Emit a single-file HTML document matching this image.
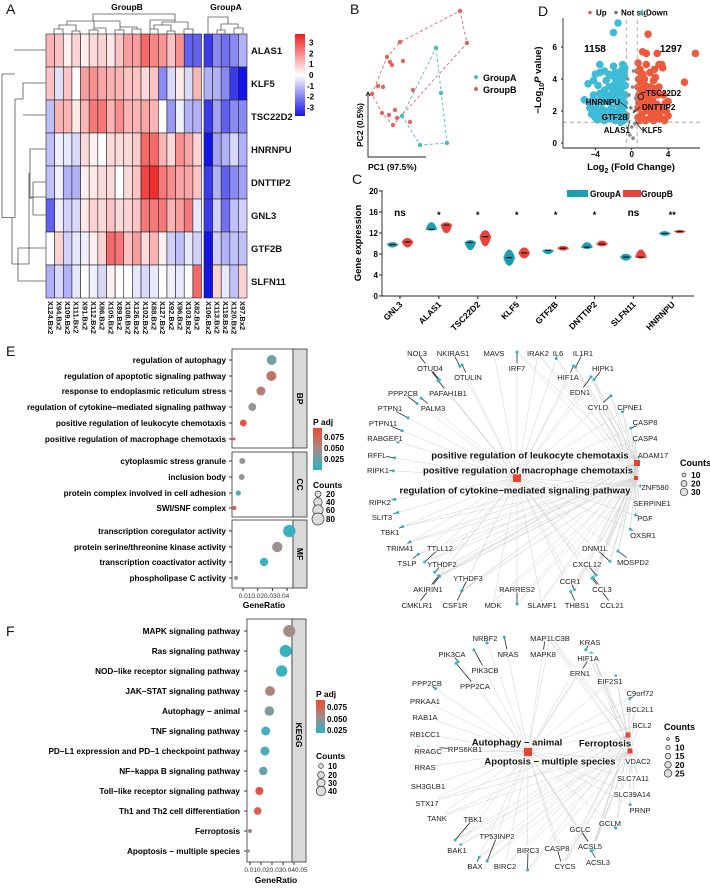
<!DOCTYPE html>
<html><head><meta charset="utf-8"><style>
html,body{margin:0;padding:0;background:#fff;}
svg{display:block;font-family:"Liberation Sans",Arial,sans-serif;}
</style></head><body>
<svg id="fig" xmlns="http://www.w3.org/2000/svg" width="710" height="889" viewBox="0 0 710 889">
<g font-size="14" fill="#111">
<text x="6" y="14">A</text><text x="350" y="14">B</text><text x="352" y="184">C</text><text x="538" y="16">D</text><text x="6" y="356">E</text><text x="6" y="636">F</text>
</g>
</svg>
<script>
const SVG='http://www.w3.org/2000/svg';
const fig=document.getElementById('fig');
function mk(tag,attrs,parent){const e=document.createElementNS(SVG,tag);for(const k in attrs)e.setAttribute(k,attrs[k]);(parent||fig).appendChild(e);return e;}
function txt(s,attrs,parent){const e=mk('text',attrs,parent);e.textContent=s;return e;}

/* ================= A: heatmap ================= */
const hmGenes=['ALAS1','KLF5','TSC22D2','HNRNPU','DNTTIP2','GNL3','GTF2B','SLFN11'];
const hmSamples=['X124.Bx2','X94.Bx2','X109.Bx2','X111.Bx2','X91.Bx2','X112.Bx2','X86.Bx2','X105.Bx2','X89.Bx2','X108.Bx2','X126.Bx2','X102.Bx2','X88.Bx2','X127.Bx2','X92.Bx2','X96.Bx2','X103.Bx2','X82.Bx2','X106.Bx2','X113.Bx2','X118.Bx2','X120.Bx2','X97.Bx2'];
const hmRowALAS1=[1,0.8,0.2,0.6,0.2,0.5,0.6,0.3,0.8,1.3,1.3,2,1.6,1.4,0.8,1.5,-2,-2,-2.5,-1.5,-1.8,-1.5,-1];
const hmRowKLF5=[0.8,-0.4,0.8,0,1.3,1.5,1.2,1,1,0.8,0.8,0.5,0.8,-1.5,-0.5,0.3,-0.5,1,-1,-1,-1.5,-2.5,-3];
const hmRowTSC22D2=[-0.8,1,1,0.3,1,1.8,1.8,1,1.5,1,1,1.2,1,0,-1.3,-0.2,-1,-1,-2.5,-1.2,-2,-1.5,-1.5];
const hmRowHNRNPU=[-0.8,-0.2,-0.3,-0.5,0.5,0.2,0,0.5,0.5,0.5,0.7,2,2,1,0.5,1.5,1.2,0.6,-3.5,-1.2,-1,-0.5,-1];
const hmRowDNTTIP2=[-0.8,-0.2,-1,-1,0.2,0.3,0.5,0.5,0,0.5,0.8,2.5,2.8,1.8,1.5,1.2,1.2,0.8,-2.5,-1,-2,-1.5,-1.2];
const hmRowGNL3=[-2,-0.2,-0.6,-0.5,0.3,0.6,0.5,0.8,0.5,0.6,0.8,1.8,1.8,1.8,1,1.3,1.8,-0.3,-2.5,-0.6,-1.8,-0.8,-0.6];
const hmRowGTF2B=[0,0.6,-0.6,-0.3,-0.2,0.2,0.6,2,1.8,0.8,1.3,0.5,1,0.2,-0.6,-0.8,-0.3,-0.6,-3.5,-0.6,-1,-0.8,-0.8];
const hmRowSLFN11=[-1,-0.5,-1,-0.3,0,-0.2,-0.5,0.2,0,0,-0.3,-0.5,-0.3,0,-0.2,-0.3,0,2,-3.5,0.6,-0.3,-0.8,0.6];
const hmRows=[hmRowALAS1,hmRowKLF5,hmRowTSC22D2,hmRowHNRNPU,hmRowDNTTIP2,hmRowGNL3,hmRowGTF2B,hmRowSLFN11];
const hmTicks=[3,2,1,0,-1,-2,-3];
const nB=18, cw=8.64, rh=33, hy0=34;
function hmX(i){return i<nB?46+i*cw:204+(i-nB)*8.6;}
function hmY(r){return hy0+r*rh;}
function hmColor(v){v=Math.max(-3,Math.min(3,v));const t=Math.abs(v)/3;
  if(v>=0)return `rgb(${Math.round(255-15*t)},${Math.round(255-225*t)},${Math.round(255-225*t)})`;
  return `rgb(${Math.round(255-235*t)},${Math.round(255-235*t)},${Math.round(255-25*t)})`;}
const gA=mk('g',{});


hmRows.forEach((row,r)=>{row.forEach((v,i)=>{
  const c=mk('rect',{x:hmX(i),y:hmY(r),width:i<nB?cw:8.6,height:rh,fill:hmColor(v),stroke:'#222','stroke-width':0.6},gA);
  
  
});
  const t=txt(hmGenes[r],{x:251,y:hmY(r)+rh/2+3.5,'font-size':9.5,'font-weight':'bold',fill:'#111'},gA);
  
  
});
hmSamples.forEach((s,i)=>{const cx=hmX(i)+4.3;
  const t=txt(s,{x:cx-2.5,y:301,'font-size':7.5,'font-weight':'bold',fill:'#111',transform:`rotate(90 ${cx-2.5} 301)`},gA);
  
  
});
{const t1=txt('GroupB',{x:127,y:10,'font-size':8.5,'font-weight':'bold','text-anchor':'middle'},gA);


const t2=txt('GroupA',{x:226,y:10,'font-size':8.5,'font-weight':'bold','text-anchor':'middle'},gA);

}
const cbDefs=mk('defs',{});
const lg=mk('linearGradient',{id:'hmgrad',x1:0,y1:0,x2:0,y2:1},cbDefs);
mk('stop',{offset:'0',"stop-color":hmColor(3.5)},lg);mk('stop',{offset:'0.5',"stop-color":'#fff'},lg);mk('stop',{offset:'1',"stop-color":hmColor(-3.5)},lg);
{const cb=mk('rect',{x:295,y:34,width:10,height:82,fill:'url(#hmgrad)'},gA);

}
hmTicks.forEach(v=>{const t=txt(String(v),{x:v<0?307:309,y:75-v*10.8+3,'font-size':8,'font-weight':'bold'},gA);

});
{const d=mk('path',{d:'M46,50 H14 M15,99 H23 V83 H46 M23,115 H46 M15,99 V217.5 M2,74 H15 M15,217.5 H2 V74 M46,149 H30 V197 H46 M30,173 H29 M29,173 V264 M33,182 V215 H46 M33,182 H46 M33,198 H29 M46,248 H18 V281 H46 M18,264 H12 M29,264 H12 M12,218 V264',fill:'none',stroke:'#555','stroke-width':0.8},gA);


const d2=mk('path',{d:'M54,34 V29 H63 V34 M72,34 V31 H80 V34 M59,29 V25 H76 V31 M89,34 V30 H98 V34 M94,30 V28 H106 V34 M115,34 V30 H124 V34 M132,34 V29 H141 V34 M67,25 V21 H120 V30 M137,29 V27 H120 M94,28 V21 M93,21 V14 H175 V20 M150,34 V29 H158 V34 M167,34 V31 H175 V34 M154,29 V25 H171 V31 M184,34 V29 H193 V34 M162,25 V22 H188 V29 M175,22 V20 H150 V29',fill:'none',stroke:'#555','stroke-width':0.8},gA);


const d3=mk('path',{d:'M208,34 V17 H228 V24 M217,34 V30 H225 V34 M221,30 V24 H238 V28 M234,34 V28 H243 V34',fill:'none',stroke:'#555','stroke-width':0.8},gA);

}

/* ================= B: PCA ================= */
const pcaAx=[86,91,52,70,97];
const pcaAy=[48,93,116,145,143];
const pcaBx=[110,117,50,37,40,42,53,22,28,33,63,32,39,45,47,43,60];
const pcaBy=[11,43,42,57,62,65,61,94,86,87,90,113,115,110,118,125,122];
const hullA=[0,4,3,2];
const hullB=[7,3,2,0,1,15,11];
function bx(v){return 350+v;} function by(v){return v;}
const gB=mk('g',{});


{const hb=mk('polygon',{points:hullB.map(i=>bx(pcaBx[i])+','+by(pcaBy[i])).join(' '),fill:'none',stroke:'#e0665f','stroke-width':0.9,'stroke-dasharray':'3,2.5'},gB);


const ha=mk('polygon',{points:hullA.map(i=>bx(pcaAx[i])+','+by(pcaAy[i])).join(' '),fill:'none',stroke:'#3fbfc4','stroke-width':0.9,'stroke-dasharray':'3,2.5'},gB);

}
pcaBx.forEach((v,i)=>{const c=mk('circle',{cx:bx(v),cy:by(pcaBy[i]),r:2.2,fill:'#e0665f'},gB);

});
pcaAx.forEach((v,i)=>{const c=mk('circle',{cx:bx(v),cy:by(pcaAy[i]),r:2.2,fill:'#3fbfc4'},gB);

});
{const ax=mk('path',{d:'M368,93 V157 H426 M366,96 L368,92 L370,96',fill:'none',stroke:'#222','stroke-width':0.9},gB);


const t1=txt('PC1 (97.5%)',{x:368,y:170,'font-size':8.5,'font-weight':'bold'},gB);


const t2=txt('PC2 (0.5%)',{x:363,y:125,'font-size':8.5,'font-weight':'bold','text-anchor':'middle',transform:'rotate(-90 363 125)'},gB);


const l1=mk('circle',{cx:476,cy:77,r:2,fill:'#3fbfc4'},gB);


const l2=mk('circle',{cx:476,cy:89,r:2,fill:'#e0665f'},gB);


const l3=txt('GroupA',{x:483,y:81,'font-size':9,'font-weight':'bold'},gB);


const l4=txt('GroupB',{x:483,y:93,'font-size':9,'font-weight':'bold'},gB);

}

/* ================= D: volcano ================= */
const volDownX=[-1,-1.2,-0.8,-1.5,-2,-2.5,-3,-3.5,-4,-1,-1.5,-2,-2.5,-3,-3.5,-4.2,-4.5,-4,-3.5,-3,-2.5,-2,-1.5,-1,-0.8,-1.3,-2,-2.7,-3.3,-4,-4.4,-0.7,-0.9,-1.8,-3,-3.8,-4.8,-5.2,-2,-1.5,-3.5,-4.2,-1.1,-2.2,-3.2,-0.75,-1.7,-2.8,-0.7,-0.9,-1.2,-1.4,-1.7,-2.3,-2.6,-3.1,-3.6,-4.1,-4.6,-0.8,-1.1,-1.6,-2.1,-2.9,-3.4,-3.9,-4.3,-0.7,-1,-1.4,-1.9,-2.4,-3.7,-0.8,-1.3,-1.8,-2.2,-0.9,-1.2];
const volDownY=[4.9,4.5,4.2,4,4.8,4.3,4.5,4.4,4.3,3.5,3.2,3.6,3.5,3.3,3.1,3,2.6,2.2,2.5,2.6,2.6,2.7,2.4,2.6,1.8,1.6,1.8,1.7,1.7,1.6,1.8,3,1.4,1.4,1.4,1.45,3.7,2.7,6.9,7.5,4.9,3.9,2,2.2,2.1,4.7,3.9,3.9,1.5,2.2,2.9,2,1.9,1.5,2,1.5,1.9,1.9,2.2,2.5,3.1,2.8,3.1,2.9,2.8,2.6,2.5,3.6,4,3.6,3.2,3,3.6,4.5,4.2,4.4,4.2,1.6,1.3];
const volUpX=[0.7,0.9,1.2,1.6,2,2.5,3,3.4,1,1.5,2,2.5,3,3.5,0.8,1.2,1.8,2.3,2.8,3.3,3.8,0.7,1.1,1.6,2.2,2.8,3.4,4,0.8,1.5,2.4,3.6,1.8,1.2,1.6,2.8,3.3,7,5.8,4,0.75,1.4,2.6,0.9,2.1,0.7,0.9,1.3,1.9,2.6,3.1,0.8,1.1,1.7,2,2.5,3.1,0.7,1,1.4,1.8,2.9,0.75,1.05,1.3,2.4,3.7,0.8,1.6,2.1];
const volUpY=[5,4.6,4.3,4.9,4.4,4.6,4.9,4.7,3.8,3.6,3.5,3.4,3.5,3,3,2.8,2.9,2.7,2.4,2.2,2,2.2,1.8,2,1.8,1.6,1.5,1.7,1.4,1.4,1.4,1.4,6.8,5.7,5.6,5.6,4.9,5.6,3.8,2.6,4,4,4.1,2.5,2.3,1.6,1.4,1.5,1.5,1.6,1.5,2.5,2.3,2.4,2.2,2,1.9,3.5,3.3,3.2,3.3,3,4.5,4.1,3.7,3.9,2.5,2.7,2.7,3.1];
const volNsX=[0,0.3,-0.3,0.2,-0.2,0.1,-0.4,0.45,-0.1,0.35,-0.45,0.15];
const volNsY=[1,2,3,4.5,0.5,3.5,1.8,2.8,2.2,1.2,4,0.3];
const volTicksX=[-4,0,4];
const volTicksY=[0,2,4,6];
function vx(v){return 631.7+v*9.1;} function vy(v){return 143-v*16;}
const gD=mk('g',{});


volDownX.forEach((v,i)=>{const c=mk('circle',{cx:vx(v),cy:vy(volDownY[i]),r:3.8,fill:'#3cbcd6'},gD);

});
volUpX.forEach((v,i)=>{const c=mk('circle',{cx:vx(v),cy:vy(volUpY[i]),r:3.8,fill:'#ee5a3c'},gD);

});
volNsX.forEach((v,i)=>{const c=mk('circle',{cx:vx(v),cy:vy(volNsY[i]),r:1.8,fill:'#888'},gD);

});
{const dl=mk('path',{d:`M${vx(-0.6)},20 V147 M${vx(0.6)},20 V147 M563,${vy(1.3)} H700`,stroke:'#999','stroke-width':0.8,'stroke-dasharray':'4,3',fill:'none'},gD);


const ax=mk('path',{d:'M563,18 V148 H700',fill:'none',stroke:'#222','stroke-width':0.9},gD);

}
volTicksX.forEach(v=>{const t=txt(String(v).replace('-','−'),{x:vx(v),y:157,'font-size':8,'font-weight':'bold','text-anchor':'middle'},gD);


mk('line',{x1:vx(v),x2:vx(v),y1:148,y2:150,stroke:'#222'},gD);});
volTicksY.forEach(v=>{const t=txt(String(v),{x:557,y:vy(v)+3,'font-size':8,'font-weight':'bold','text-anchor':'end'},gD);


mk('line',{x1:561,x2:563,y1:vy(v),y2:vy(v),stroke:'#222'},gD);});
{
const t=txt('',{x:631,y:170,'font-size':9.5,'font-weight':'bold','text-anchor':'middle'},gD);
t.innerHTML='Log<tspan font-size="7" dy="3">2</tspan><tspan dy="-3"> (Fold Change)</tspan>';


const t2=txt('',{x:541,y:80,'font-size':9.5,'font-weight':'bold','text-anchor':'middle',transform:'rotate(-90 541 80)'},gD);
t2.innerHTML='−Log<tspan font-size="7" dy="3">10</tspan><tspan dy="-3" font-style="italic">P</tspan><tspan> value)</tspan>';


const n1=txt('1158',{x:595,y:52,'font-size':10,'font-weight':'bold','text-anchor':'middle'},gD);


const n2=txt('1297',{x:671,y:52,'font-size':10,'font-weight':'bold','text-anchor':'middle'},gD);


const oc=mk('circle',{cx:vx(1),cy:vy(2.9),r:2.8,fill:'none',stroke:'#111','stroke-width':0.8},gD);


const leg=[['Up','#d9604c',590,596],['Not sig','#777',616,621],['Down','#3cb4c4',641,646]];
leg.forEach(l=>{const c=mk('circle',{cx:l[2],cy:12.5,r:1.8,fill:l[1]},gD);


const tt=txt(l[0],{x:l[3],y:15.5,'font-size':8,'font-weight':'bold',stroke:'#fff','stroke-width':1.5,'paint-order':'stroke'},gD);

});
const gl=[['TSC22D2',646,96,'start'],['HNRNPU',620,105,'end'],['DNTTIP2',642,110,'start'],['GTF2B',628,120,'end'],['ALAS1',630,133,'end'],['KLF5',642,133,'start']];
gl.forEach(l=>{const tt=txt(l[0],{x:l[1],y:l[2],'font-size':8,'font-weight':'bold','text-anchor':l[3]},gD);

});
const ll=mk('path',{d:'M641,93 L646,92 M620,102 L628,108 M640,107 L633,113 M628,117 L630,117 M628,128 L630,120 M642,130 L636,122',stroke:'#111','stroke-width':0.7,fill:'none'},gD);


}

/* ================= C: violin ================= */
const vioGenes=['GNL3','ALAS1','TSC22D2','KLF5','GTF2B','DNTTIP2','SLFN11','HNRNPU'];
const vioAMed=[9.8,12.7,10.2,7.3,8.7,9.3,7.4,11.9];
const vioAMin=[9.3,12.5,8.8,5.8,8,9,6.8,11.5];
const vioAMax=[10.2,14,10.6,8.8,8.8,10.2,8,12.3];
const vioBMed=[10.3,13.5,11.3,8.2,9.1,9.9,7.4,12.3];
const vioBMin=[9.3,12,9.5,7.2,8.7,9.5,7.2,12];
const vioBMax=[11,14,12.5,9.2,9.5,10.5,8.8,12.5];
const vioSig=['ns','*','*','*','*','*','ns','**'];
const vioTicks=[0,4,8,12,16,20];
function cx(i){return 400+i*38.9;} function cy(v){return 296-v*5.25;}
const gC=mk('g',{});


function violin(xc,mn,md,mx,col,name){let pts=[],n=16;const w=5.5;
  for(let k=0;k<=n;k++){const v=mn+(mx-mn)*k/n;const d=v<md?(v-mn)/(md-mn||1):(mx-v)/(mx-md||1);pts.push([xc+w*Math.sqrt(Math.max(0,d))*0.95+0.3,cy(v)]);}
  const left=pts.map(p=>[2*xc-p[0],p[1]]).reverse();
  const p=mk('polygon',{points:pts.concat(left).map(q=>q.join(',')).join(' '),fill:col,stroke:col,'stroke-width':0.6},gC);
  
  
  mk('line',{x1:xc-3,x2:xc+3,y1:cy(md),y2:cy(md),stroke:'#111','stroke-width':1.2},gC);}
vioGenes.forEach((g,i)=>{violin(cx(i)-7.5,vioAMin[i],vioAMed[i],vioAMax[i],'#1a9fb0','violin-groupa');
violin(cx(i)+7.5,vioBMin[i],vioBMed[i],vioBMax[i],'#e8423a','violin-groupb');
const t=txt(g,{x:cx(i)+3,y:305,'font-size':8.5,'font-weight':'bold','text-anchor':'end',transform:`rotate(-45 ${cx(i)+3} 305)`},gC);


mk('line',{x1:cx(i),x2:cx(i),y1:296,y2:299,stroke:'#222'},gC);
const s=txt(vioSig[i],{x:cx(i),y:vioSig[i]=='ns'?216:218,'font-size':vioSig[i]=='ns'?10:9,'font-weight':'bold','text-anchor':'middle'},gC);

});
vioTicks.forEach(v=>{const t=txt(String(v),{x:378,y:cy(v)+3,'font-size':8,'font-weight':'bold','text-anchor':'end'},gC);


mk('line',{x1:379,x2:382,y1:cy(v),y2:cy(v),stroke:'#222'},gC);});
{const ax=mk('path',{d:'M382,190 V296 H694',fill:'none',stroke:'#222','stroke-width':0.9},gC);


const yt=txt('Gene expression',{x:361,y:243,'font-size':9.5,'font-weight':'bold','text-anchor':'middle',transform:'rotate(-90 361 243)'},gC);


const r1=mk('rect',{x:567,y:190,width:21,height:7,fill:'#1a9fb0'},gC);


const t1=txt('GroupA',{x:590,y:197,'font-size':9,'font-weight':'bold',textLength:31,lengthAdjust:'spacingAndGlyphs'},gC);


const r2=mk('rect',{x:623,y:190,width:18,height:7,fill:'#e8423a'},gC);


const t2=txt('GroupB',{x:641,y:197,'font-size':9,'font-weight':'bold',textLength:32,lengthAdjust:'spacingAndGlyphs'},gC);

}

/* ================= dotplot helpers ================= */
function padjColor(p){const t=Math.max(0,Math.min(1,p/0.085));
  const a=[43,181,200],m=[150,150,150],b=[240,74,48];let c;
  if(t<0.45){const u=t/0.45;c=a.map((x,k)=>x+(m[k]-x)*u);}else{const u=(t-0.45)/0.55;c=m.map((x,k)=>x+(b[k]-x)*u);}
  return `rgb(${c.map(Math.round).join(',')})`;}
mk('linearGradient',{id:'pgrad',x1:0,y1:0,x2:0,y2:1},cbDefs);
{const pg=document.getElementById('pgrad');mk('stop',{offset:'0','stop-color':padjColor(0.085)},pg);mk('stop',{offset:'0.5','stop-color':padjColor(0.045)},pg);mk('stop',{offset:'1','stop-color':padjColor(0)},pg);}

/* ================= E: GO dotplot ================= */
const goTerms=['regulation of autophagy','regulation of apoptotic signaling pathway','response to endoplasmic reticulum stress','regulation of cytokine−mediated signaling pathway','positive regulation of leukocyte chemotaxis','positive regulation of macrophage chemotaxis','cytoplasmic stress granule','inclusion body','protein complex involved in cell adhesion','SWI/SNF complex','transcription coregulator activity','protein serine/threonine kinase activity','transcription coactivator activity','phospholipase C activity'];
const goRatio=[0.0295,0.0293,0.0222,0.0163,0.0102,0.0039,0.0095,0.0091,0.0068,0.0041,0.0415,0.0333,0.0243,0.0052];
const goPadj=[0.025,0.06,0.055,0.04,0.08,0.075,0.038,0.038,0.01,0.07,0.005,0.042,0.008,0.035];
const goCount=[55,55,45,35,25,5,20,20,15,10,85,60,40,10];
const goTicks=[0.01,0.02,0.03,0.04];
const goRowY=[360,376,391,407,423,439,461,477,493,508,531,547,562,578];
function ex(v){return 243+(v-0.01)*1470;}
const gE=mk('g',{});


[['BP',349,448],['CC',452,517],['MF',520,588]].forEach(f=>{
 const b=mk('rect',{x:232,y:f[1],width:61,height:f[2]-f[1],fill:'#fff',stroke:'#333','stroke-width':0.8},gE);
 
 
 const s=mk('rect',{x:293,y:f[1],width:14,height:f[2]-f[1],fill:'#d9d9d9',stroke:'#333','stroke-width':0.8},gE);
 
 
 const m=(f[1]+f[2])/2;
 const t=txt(f[0],{x:300,y:m,'font-size':8.5,'font-weight':'bold','text-anchor':'middle',transform:`rotate(90 300 ${m}) translate(0 3)`},gE);
 
 });
goTerms.forEach((g,i)=>{
 const t=txt(g,{x:226,y:goRowY[i]+3,'font-size':8.2,'font-weight':'bold','text-anchor':'end'},gE);
 
 
 mk('line',{x1:229,x2:232,y1:goRowY[i],y2:goRowY[i],stroke:'#333'},gE);
 const c=mk('circle',{cx:ex(goRatio[i]),cy:goRowY[i],r:0.67*Math.sqrt(goCount[i]),fill:padjColor(goPadj[i])},gE);
 
 });
goTicks.forEach(v=>{mk('line',{x1:ex(v),x2:ex(v),y1:588,y2:591,stroke:'#333'},gE);});
{const t=txt('0.010.020.030.04',{x:264,y:598,'font-size':6.5,'text-anchor':'middle',fill:'#333'},gE);


const xt=txt('GeneRatio',{x:264,y:608,'font-size':8.5,'font-weight':'bold','text-anchor':'middle'},gE);


const lt=txt('P adj',{x:313,y:425,'font-size':8.5,'font-weight':'bold'},gE);


const lb=mk('rect',{x:313,y:428,width:9,height:42,fill:'url(#pgrad)'},gE);


[['0.075',437],['0.050',448],['0.025',459]].forEach(l=>{const tt=txt(l[0],{x:324,y:l[1]+3,'font-size':8,'font-weight':'bold'},gE);

});
const ct=txt('Counts',{x:313,y:488,'font-size':8.5,'font-weight':'bold'},gE);


[[20,494],[40,502],[60,510],[80,519]].forEach(l=>{const c=mk('circle',{cx:318,cy:l[1],r:0.67*Math.sqrt(l[0]),fill:'#ddd',stroke:'#333','stroke-width':0.7},gE);


const tt=txt(String(l[0]),{x:326,y:l[1]+3,'font-size':8,'font-weight':'bold'},gE);

});}

/* ================= F: KEGG dotplot ================= */
const kgTerms=['MAPK signaling pathway','Ras signaling pathway','NOD−like receptor signaling pathway','JAK−STAT signaling pathway','Autophagy − animal','TNF signaling pathway','PD−L1 expression and PD−1 checkpoint pathway','NF−kappa B signaling pathway','Toll−like receptor signaling pathway','Th1 and Th2 cell differentiation','Ferroptosis','Apoptosis − multiple species'];
const kgRatio=[0.0457,0.0424,0.0388,0.0282,0.0276,0.0243,0.0236,0.0221,0.0185,0.017,0.010,0.0085];
const kgPadj=[0.045,0.005,0.005,0.05,0.03,0.01,0.01,0.02,0.08,0.07,0.05,0.045];
const kgCount=[45,45,40,30,28,25,25,22,20,18,5,3];
const kgTicks=[0.01,0.02,0.03,0.04,0.05];
function fx(v){return 250+(v-0.01)*1100;} function fy(i){return 631+i*20;}
const gF=mk('g',{});


{const b=mk('rect',{x:247,y:619,width:45,height:243,fill:'#fff',stroke:'#333','stroke-width':0.8},gF);


const s=mk('rect',{x:292,y:619,width:14,height:243,fill:'#d9d9d9',stroke:'#333','stroke-width':0.8},gF);


const t=txt('KEGG',{x:299,y:735,'font-size':8.5,'font-weight':'bold','text-anchor':'middle',transform:'rotate(90 299 735) translate(0 3)'},gF);

}
kgTerms.forEach((g,i)=>{
 const t=txt(g,{x:240,y:fy(i)+3,'font-size':8.2,'font-weight':'bold','text-anchor':'end'},gF);
 
 
 mk('line',{x1:244,x2:247,y1:fy(i),y2:fy(i),stroke:'#333'},gF);
 const c=mk('circle',{cx:fx(kgRatio[i]),cy:fy(i),r:0.9*Math.sqrt(kgCount[i]),fill:padjColor(kgPadj[i])},gF);
 
 });
kgTicks.forEach(v=>{mk('line',{x1:fx(v),x2:fx(v),y1:862,y2:865,stroke:'#333'},gF);});
{const t=txt('0.010.020.030.040.05',{x:276,y:872,'font-size':6.5,'text-anchor':'middle',fill:'#333'},gF);


const xt=txt('GeneRatio',{x:276,y:883,'font-size':8.5,'font-weight':'bold','text-anchor':'middle'},gF);


const lt=txt('P adj',{x:316,y:697,'font-size':8.5,'font-weight':'bold'},gF);


const lb=mk('rect',{x:316,y:700,width:9,height:33,fill:'url(#pgrad)'},gF);


[['0.075',708],['0.050',720],['0.025',731]].forEach(l=>{const tt=txt(l[0],{x:327,y:l[1]+2,'font-size':8,'font-weight':'bold'},gF);

});
const ct=txt('Counts',{x:316,y:759,'font-size':8.5,'font-weight':'bold'},gF);


[[10,766],[20,775],[30,783],[40,791]].forEach(l=>{const c=mk('circle',{cx:321,cy:l[1],r:0.75*Math.sqrt(l[0]),fill:'#ddd',stroke:'#333','stroke-width':0.7},gF);


const tt=txt(String(l[0]),{x:328,y:l[1]+3,'font-size':8,'font-weight':'bold'},gF);

});}

/* ================= networks ================= */
function network(grp,center,rx,ry,genes,lx,ly,hubs,hubSize,hubLabels,legend){
 const nodes=genes.map((g,i)=>{const dx=lx[i]-center[0],dy=ly[i]-center[1];const a=Math.atan2(dy/ry,dx/rx);return [center[0]+rx*Math.cos(a),center[1]+ry*Math.sin(a)];});
 nodes.forEach((n,i)=>{hubs.forEach((h,k)=>{if(k==0||n[0]>center[0]-20||n[1]>center[1]+40){const e=mk('line',{x1:n[0],y1:n[1],x2:h[0],y2:h[1],stroke:'#d2d2d2','stroke-width':0.5},grp);
  
  }});});
 hubs.forEach((h,k)=>{const s=hubSize[k];const r=mk('rect',{x:h[0]-s/2,y:h[1]-s/2,width:s,height:s,fill:'#e8432f'},grp);
  
  });
 nodes.forEach((n,i)=>{
  const l=mk('line',{x1:n[0],y1:n[1],x2:lx[i],y2:ly[i],stroke:'#111','stroke-width':0.7},grp);
  
  
  const c=mk('circle',{cx:n[0],cy:n[1],r:1.5,fill:'#2fb3c4'},grp);
  
  });
 genes.forEach((g,i)=>{
  const bg=mk('rect',{x:lx[i]-g.length*2.3,y:ly[i]-4.5,width:g.length*4.6,height:8,fill:'#fff'},grp);
  
  
  const t=txt(g,{x:lx[i],y:ly[i]+3,'font-size':7.6,'text-anchor':'middle',fill:'#222'},grp);
  
  });
 hubLabels.forEach(h=>{const t=txt(h[0],{x:h[1],y:h[2]+3.5,'font-size':9.5,'font-weight':'bold','text-anchor':'middle',fill:'#111',stroke:'#fff','stroke-width':2,'paint-order':'stroke'},grp);
  
  });
 const lt=txt('Counts',{x:legend[0],y:legend[1],'font-size':9,'font-weight':'bold'},grp);
 
 
 legend[2].forEach((v,k)=>{const y=legend[1]+9+k*legend[3];const c=mk('circle',{cx:legend[0]+4,cy:y,r:legend[4][k],fill:'#ddd',stroke:'#333','stroke-width':0.7},grp);
  
  
  const t=txt(String(v),{x:legend[0]+11,y:y+3,'font-size':8.5,'font-weight':'bold'},grp);
  
  });
}
const netEGenes=['NOL3','NKIRAS1','MAVS','IRF7','IRAK2','IL6','IL1R1','HIPK1','HIF1A','EDN1','CYLD','CPNE1','CASP8','CASP4','ADAM17','ZNF580','SERPINE1','PGF','OXSR1','MOSPD2','DNM1L','CXCL12','CCR1','CCL3','CCL21','THBS1','SLAMF1','RARRES2','MDK','CSF1R','CMKLR1','AKIRIN1','YTHDF3','YTHDF2','TTLL12','TSLP','TRIM41','TBK1','SLIT3','RIPK2','RIPK1','RFFL','RABGEF1','PTPN11','PTPN1','PPP2CB','PALM3','PAFAH1B1','OTULIN','OTUD4'];
const netELabelX=[417,453,494,517,538,558,583,603,568,580,598,630,645,645,653,655,652,645,643,633,595,587,570,602,612,577,542,517,493,455,417,428,468,442,440,407,400,390,382,380,378,377,385,383,390,403,433,448,468,430];
const netELabelY=[353,353,353,368,353,353,353,368,377,392,407,407,422,438,455,487,503,518,535,562,548,564,581,589,605,605,605,589,605,605,605,589,578,564,548,563,548,532,517,502,470,455,438,423,408,393,408,393,377,368];
const gNE=mk('g',{});


network(gNE,[517,478],124,126,netEGenes,netELabelX,netELabelY,[[517,478],[637,463],[636,478]],[8,6,4],
 [['positive regulation of leukocyte chemotaxis',530,455],['positive regulation of macrophage chemotaxis',528,470],['regulation of cytokine−mediated signaling pathway',515,490]],
 [680,466,[10,20,30],8.5,[2,3,3.8]]);
const netFGenes=['NRBF2','NRAS','MAP1LC3B','MAPK8','KRAS','HIF1A','ERN1','EIF2S1','C9orf72','BCL2L1','BCL2','VDAC2','SLC7A11','SLC39A14','PRNP','GCLM','GCLC','ACSL5','ACSL3','CYCS','CASP8','BIRC3','BIRC2','BAX','BAK1','TP53INP2','TBK1','TANK','STX17','SH3GLB1','RRAS','RRAGC','RPS6KB1','RB1CC1','RAB1A','PRKAA1','PPP2CB','PPP2CA','PIK3CB','PIK3CA'];
const netFLabelX=[485,508,550,543,590,588,580,610,640,640,642,638,633,632,640,610,580,590,598,565,557,528,505,475,457,497,473,437,427,428,425,428,465,425,425,425,427,475,485,452];
const netFLabelY=[638,654,638,654,642,658,673,681,693,709,725,761,778,794,810,823,829,846,862,866,848,850,866,866,850,836,819,818,803,786,767,751,749,734,717,701,683,686,670,654];
const gNF=mk('g',{});


network(gNF,[530,752],112,118,netFGenes,netFLabelX,netFLabelY,[[528,752],[628,735],[630,751]],[8,5,5],
 [['Autophagy − animal',517,742],['Ferroptosis',605,743],['Apoptosis − multiple species',550,761]],
 [664,730,[5,10,15,20,25],8.6,[1.4,2.2,2.8,3.3,3.8]]);
</script>
</body></html>
